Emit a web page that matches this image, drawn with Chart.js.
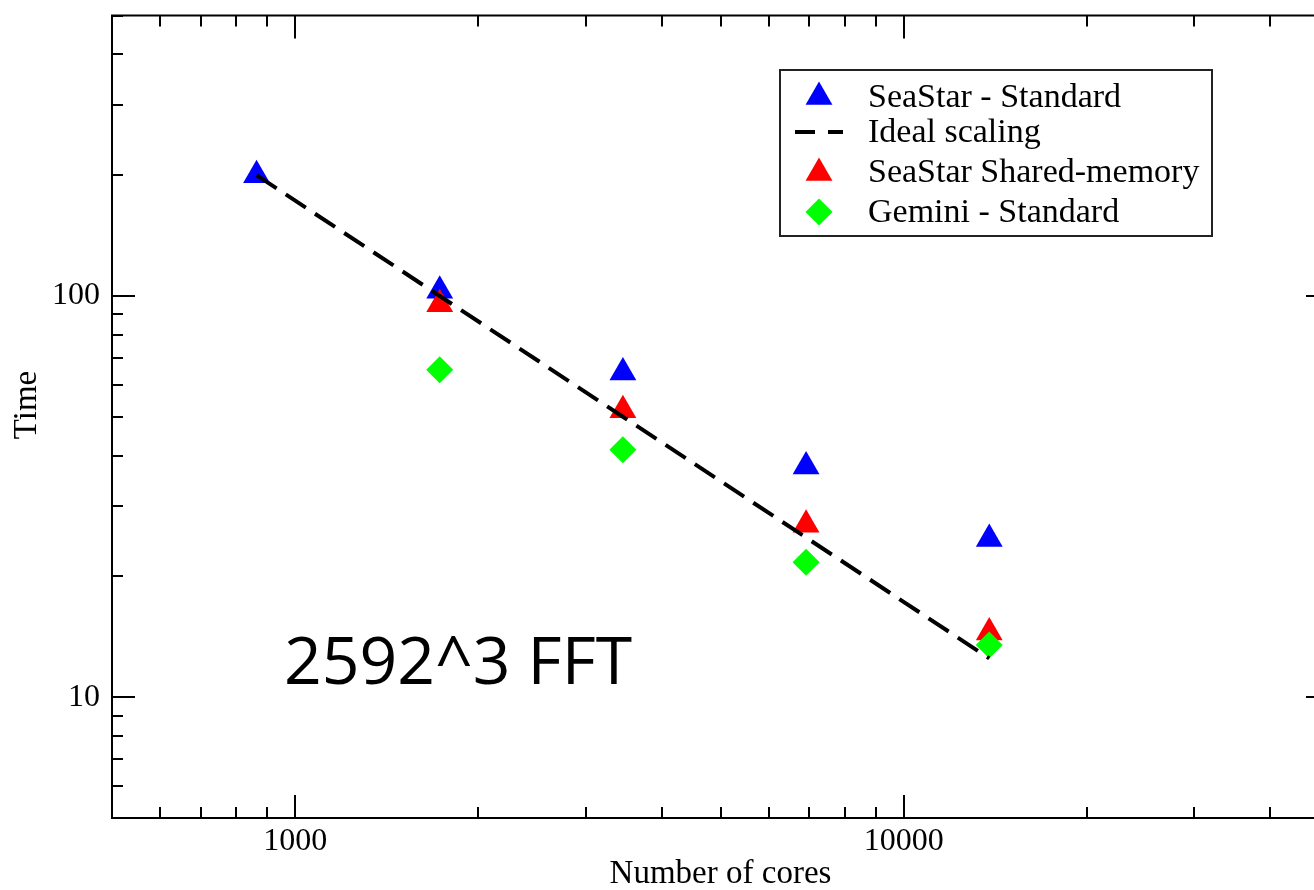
<!DOCTYPE html>
<html>
<head>
<meta charset="utf-8">
<script src="https://cdn.jsdelivr.net/npm/chart.js@4.4.0/dist/chart.umd.min.js"></script>
<style>
  html, body { margin: 0; padding: 0; background: #fff; overflow: hidden; }
  #wrap { width: 1345px; height: 890px; }
</style>
</head>
<body>
<div id="wrap"><canvas id="chart" width="1345" height="890"></canvas></div>
<script>
/* ---------- DATA ---------- */
const cores        = [864, 1728, 3456, 6912, 13824];
const seastarStd   = [200, 103, 64.5, 37.6, 24.8];
const idealScaling = [200, 100, 50, 25, 12.5];
const seastarShm   = [null, 95.3, 51.9, 26.9, 14.5];
const geminiStd    = [null, 65.5, 41.4, 21.7, 13.5];

const xTicks  = [500, 600, 700, 800, 900, 1000, 2000, 3000, 4000, 5000, 6000, 7000, 8000, 9000,
                 10000, 20000, 30000, 40000, 50000];
const xLabels = [1000, 10000];
const yTicks  = [5, 6, 7, 8, 9, 10, 20, 30, 40, 50, 60, 70, 80, 90, 100, 200, 300, 400, 500];
const yLabels = [10, 100];

const SERIF = '"Liberation Serif", "Times New Roman", serif';

function points(values) {
  return cores.map((c, i) => ({ x: c, y: values[i] })).filter(p => p.y !== null);
}

/* ---------- HELPERS ---------- */
function triangle(ctx, x, y, r) {
  let rad = 0;
  ctx.beginPath();
  for (let k = 0; k < 3; k++) {
    const px = x + Math.sin(rad) * r, py = y - Math.cos(rad) * r;
    k === 0 ? ctx.moveTo(px, py) : ctx.lineTo(px, py);
    rad += 2 * Math.PI / 3;
  }
  ctx.closePath();
  ctx.fill();
}

function diamond(ctx, x, y, r) {
  ctx.beginPath();
  ctx.moveTo(x, y - r);
  ctx.lineTo(x + r, y);
  ctx.lineTo(x, y + r);
  ctx.lineTo(x - r, y);
  ctx.closePath();
  ctx.fill();
}

/* ---------- FRAME, INWARD TICKS, TEXT ---------- */
const framePlugin = {
  id: 'frame',
  afterDatasetsDraw(chart) {
    const { ctx, chartArea: a, scales: { x, y } } = chart;
    ctx.save();
    ctx.strokeStyle = '#000';
    ctx.lineWidth = 2;
    ctx.strokeRect(a.left, a.top, a.right - a.left, a.bottom - a.top);
    ctx.beginPath();
    xTicks.forEach(v => {
      const px = Math.round(x.getPixelForValue(v));
      const len = xLabels.includes(v) ? 23 : 11;
      ctx.moveTo(px, a.bottom); ctx.lineTo(px, a.bottom - len);
      ctx.moveTo(px, a.top);    ctx.lineTo(px, a.top + len);
    });
    yTicks.forEach(v => {
      const py = Math.round(y.getPixelForValue(v));
      const len = yLabels.includes(v) ? 23 : 11;
      ctx.moveTo(a.left, py);  ctx.lineTo(a.left + len, py);
      ctx.moveTo(a.right, py); ctx.lineTo(a.right - len, py);
    });
    ctx.stroke();

    // axis titles
    ctx.fillStyle = '#000';
    ctx.font = '33px ' + SERIF;
    ctx.textAlign = 'center';
    ctx.textBaseline = 'alphabetic';
    ctx.fillText('Number of cores', (a.left + a.right) / 2, 883);
    ctx.save();
    ctx.translate(36, 405);
    ctx.rotate(-Math.PI / 2);
    ctx.fillText('Time', 0, 0);
    ctx.restore();

    // annotation
    ctx.font = '66px "Open Sans", "Noto Sans", sans-serif';
    ctx.textAlign = 'left';
    ctx.fillText('2592^3 FFT', 284, 684);
    ctx.restore();
  },
  afterDraw(chart) {
    const ctx = chart.ctx;
    const ds = chart.data.datasets;
    ctx.save();
    ctx.fillStyle = '#fff';
    ctx.fillRect(780, 70, 432, 166);
    ctx.strokeStyle = '#222';
    ctx.lineWidth = 2;
    ctx.strokeRect(780, 70, 432, 166);

    const rows = [97, 132, 173, 212];
    const baselines = [107, 142, 182, 222];
    const mx = 819;
    ds.forEach((d, i) => {
      const cy = rows[i];
      if (d.showLine) {
        ctx.strokeStyle = d.borderColor;
        ctx.lineWidth = d.borderWidth;
        ctx.setLineDash([20, 13]);
        ctx.beginPath();
        ctx.moveTo(795, cy); ctx.lineTo(843, cy);
        ctx.stroke();
        ctx.setLineDash([]);
      } else {
        ctx.fillStyle = d.pointBackgroundColor;
        if (d.pointStyle === 'triangle') triangle(ctx, mx, cy, d.pointRadius);
        else diamond(ctx, mx, cy, d.pointRadius);
      }
      ctx.fillStyle = '#000';
      ctx.font = '34px ' + SERIF;
      ctx.textAlign = 'left';
      ctx.textBaseline = 'alphabetic';
      ctx.fillText(d.label, 868, baselines[i]);
    });
    ctx.restore();
  }
};

/* ---------- CHART ---------- */
new Chart(document.getElementById('chart'), {
  type: 'scatter',
  data: {
    datasets: [
      {
        label: 'SeaStar - Standard',
        data: points(seastarStd),
        pointStyle: 'triangle', pointRadius: 15.5, pointBorderWidth: 0,
        pointBackgroundColor: '#0000ff', order: 4
      },
      {
        label: 'Ideal scaling',
        data: points(idealScaling),
        showLine: true, pointRadius: 0,
        borderColor: '#000', borderWidth: 4, borderDash: [24, 11],
        order: 0
      },
      {
        label: 'SeaStar Shared-memory',
        data: points(seastarShm),
        pointStyle: 'triangle', pointRadius: 15.5, pointBorderWidth: 0,
        pointBackgroundColor: '#ff0000', order: 3
      },
      {
        label: 'Gemini - Standard',
        data: points(geminiStd),
        pointStyle: 'rectRot', pointRadius: 13.5, pointBorderWidth: 0,
        pointBackgroundColor: '#00ff00', order: 2
      }
    ]
  },
  options: {
    responsive: false,
    animation: false,
    layout: { padding: { top: 13, right: 16, left: 0, bottom: 0 } },
    plugins: { legend: { display: false }, tooltip: { enabled: false } },
    scales: {
      x: {
        type: 'logarithmic', min: 500, max: 50000,
        border: { display: false },
        grid: { display: false, drawTicks: false },
        afterBuildTicks: s => { s.ticks = xTicks.map(v => ({ value: v })); },
        afterFit: s => { s.height = 72; s.paddingLeft = 0; s.paddingRight = 0; },
        ticks: {
          autoSkip: false, maxRotation: 0, padding: 4, color: '#000',
          font: { family: SERIF, size: 32 },
          callback: v => xLabels.includes(v) ? String(v) : ''
        }
      },
      y: {
        type: 'logarithmic', min: 5, max: 500,
        border: { display: false },
        grid: { display: false, drawTicks: false },
        afterBuildTicks: s => { s.ticks = yTicks.map(v => ({ value: v })); },
        afterFit: s => { s.width = 112; s.paddingTop = 0; s.paddingBottom = 0; },
        ticks: {
          autoSkip: false, padding: 12, color: '#000',
          font: { family: SERIF, size: 32 },
          callback: v => yLabels.includes(v) ? String(v) : ''
        }
      }
    }
  },
  plugins: [framePlugin]
});
</script>
</body>
</html>
